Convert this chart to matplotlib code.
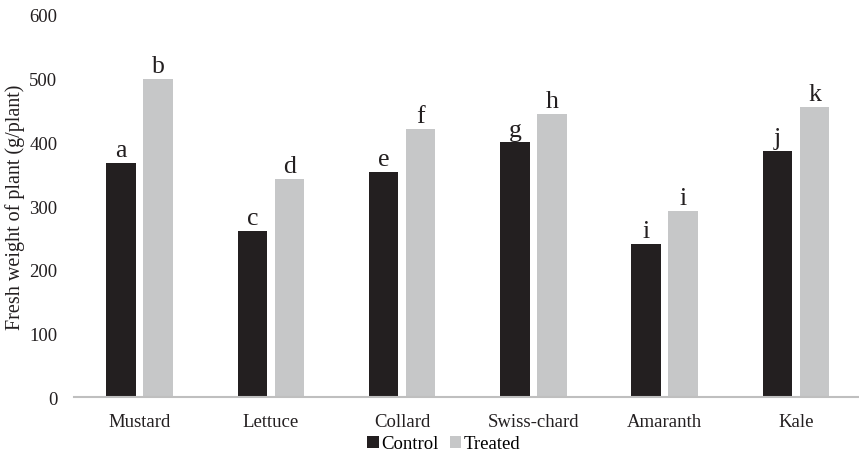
import matplotlib
matplotlib.use('Agg')
import matplotlib.pyplot as plt
import numpy as np

# Fresh weight per plant
crops = ['Mustard', 'Lettuce', 'Collard', 'Swiss-chard', 'Amaranth', 'Kale']
control = [368, 261, 353, 400, 240, 387]
treated = [500, 342, 421, 444, 293, 455]
control_letters = ['a', 'c', 'e', 'g', 'i', 'j']
treated_letters = ['b', 'd', 'f', 'h', 'i', 'k']

plt.rcParams['font.family'] = ['Liberation Serif', 'DejaVu Serif']

fig = plt.figure(figsize=(8.59, 4.56), dpi=100)
ax = fig.add_axes([0.0861, 0.1265, 0.917, 0.8385])

x = np.arange(len(crops))
w = 0.225
off = 0.141
b1 = ax.bar(x - off, control, w, color='#231f20', label='Control')
b2 = ax.bar(x + off, treated, w, color='#c6c7c8', label='Treated')

for bars, letters in ((b1, control_letters), (b2, treated_letters)):
    for bar, txt in zip(bars, letters):
        ax.text(bar.get_x() + bar.get_width() / 2, bar.get_height() + 3, txt,
                ha='center', va='bottom', fontsize=18.5, color='#231f20')

ax.set_xlim(-0.5, len(crops) - 0.5)
ax.set_ylim(0, 600)
ax.set_yticks(range(0, 601, 100))
ax.set_xticks(x)
ax.set_xticklabels(crops)
ax.tick_params(axis='both', length=0, labelsize=13.5, colors='#231f20')
ax.tick_params(axis='y', pad=12)
ax.tick_params(axis='x', pad=11.5)
ax.set_ylabel('Fresh weight of plant (g/plant)', fontsize=14.5, color='#231f20', labelpad=3)

for s in ['top', 'right', 'left']:
    ax.spines[s].set_visible(False)
ax.spines['bottom'].set_color('#bfbfbf')
ax.spines['bottom'].set_linewidth(1.5)

fig.legend(handles=[b1, b2], loc='center', bbox_to_anchor=(444 / 859, 1 - 445 / 456),
           ncol=2, frameon=False, fontsize=13.5, handlelength=0.6, handleheight=0.6,
           handletextpad=0.15, columnspacing=0.6)

fig.savefig('out.png', dpi=100)
